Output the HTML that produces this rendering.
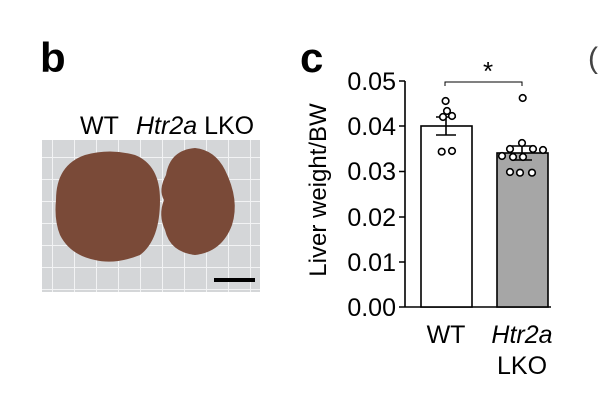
<!DOCTYPE html>
<html><head><style>body{margin:0;background:#fff}svg{display:block}</style></head><body>
<svg width="600" height="411" xmlns="http://www.w3.org/2000/svg" font-family="Liberation Sans, sans-serif">
<defs>
<pattern id="g" width="22" height="22" patternUnits="userSpaceOnUse" x="8" y="3">
<rect width="22" height="22" fill="#d4d6d8"/>
<path d="M0 0H22M0 0V22" stroke="#f2f3f4" stroke-width="2"/>
</pattern>
</defs>
<text x="40" y="72" font-size="42" font-weight="bold">b</text>
<text x="300" y="72" font-size="42" font-weight="bold">c</text>
<text x="588" y="68" font-size="30" fill="#444">(</text>
<text x="80" y="134" font-size="25">WT</text>
<text x="136" y="134" font-size="25"><tspan font-style="italic">Htr2a</tspan> LKO</text>
<rect x="42" y="140" width="218" height="152" fill="url(#g)"/>
<path d="M56 200 Q56 165 85 155 Q110 148 135 155 Q160 165 160 200 Q160 240 140 255 Q115 265 95 260 Q70 255 60 235 Q54 220 56 200 Z" fill="#7a4a38"/>
<path d="M166 175 Q170 150 195 148 Q215 150 225 170 Q240 200 232 225 Q222 252 195 255 Q170 252 165 230 Q158 215 164 200 Q158 190 166 175 Z" fill="#7a4a38"/>
<rect x="214" y="278" width="41" height="4" fill="#000"/>
<g font-size="25" text-anchor="end">
<text x="396" y="316">0.00</text><text x="396" y="271">0.01</text><text x="396" y="226">0.02</text><text x="396" y="180">0.03</text><text x="396" y="135">0.04</text><text x="396" y="90">0.05</text>
</g>
<text transform="translate(326,190) rotate(-90)" font-size="24" text-anchor="middle">Liver weight/BW</text>
<g stroke="#000" stroke-width="1.6" fill="none">
<path d="M405 81V307H551M399 81H405M399 126H405M399 171.5H405M399 217H405M399 262H405M399 307H405"/>
<rect x="421" y="126" width="51" height="181" fill="#fff"/>
<rect x="497" y="153" width="51" height="154" fill="#a6a6a6"/>
<path d="M446 117V135M436 117H456M436 135H456M522 146V160M512 146H532M512 160H532"/>
<path d="M445 86V82H522V86" stroke-width="1"/>
</g>
<g stroke="#000" stroke-width="1.6" fill="#fff">
<circle cx="445.6" cy="101" r="3.3"/><circle cx="447" cy="111" r="3.3"/><circle cx="452" cy="116" r="3.3"/><circle cx="443" cy="117" r="3.3"/><circle cx="441.7" cy="151.7" r="3.3"/><circle cx="452" cy="151" r="3.3"/>
<circle cx="522.7" cy="98" r="3.3"/><circle cx="510" cy="149" r="3.3"/><circle cx="522" cy="143" r="3.3"/><circle cx="533" cy="149" r="3.3"/><circle cx="543" cy="150" r="3.3"/><circle cx="502" cy="156" r="3.3"/><circle cx="513" cy="157" r="3.3"/><circle cx="523" cy="157" r="3.3"/><circle cx="510" cy="172" r="3.3"/><circle cx="520" cy="172.7" r="3.3"/><circle cx="532" cy="172.7" r="3.3"/>
</g>
<text x="488" y="80" font-size="26" text-anchor="middle">*</text>
<text x="446" y="343" font-size="25" text-anchor="middle">WT</text>
<text x="522" y="343" font-size="25" text-anchor="middle" font-style="italic">Htr2a</text>
<text x="522" y="374" font-size="25" text-anchor="middle">LKO</text>
</svg>
</body></html>
